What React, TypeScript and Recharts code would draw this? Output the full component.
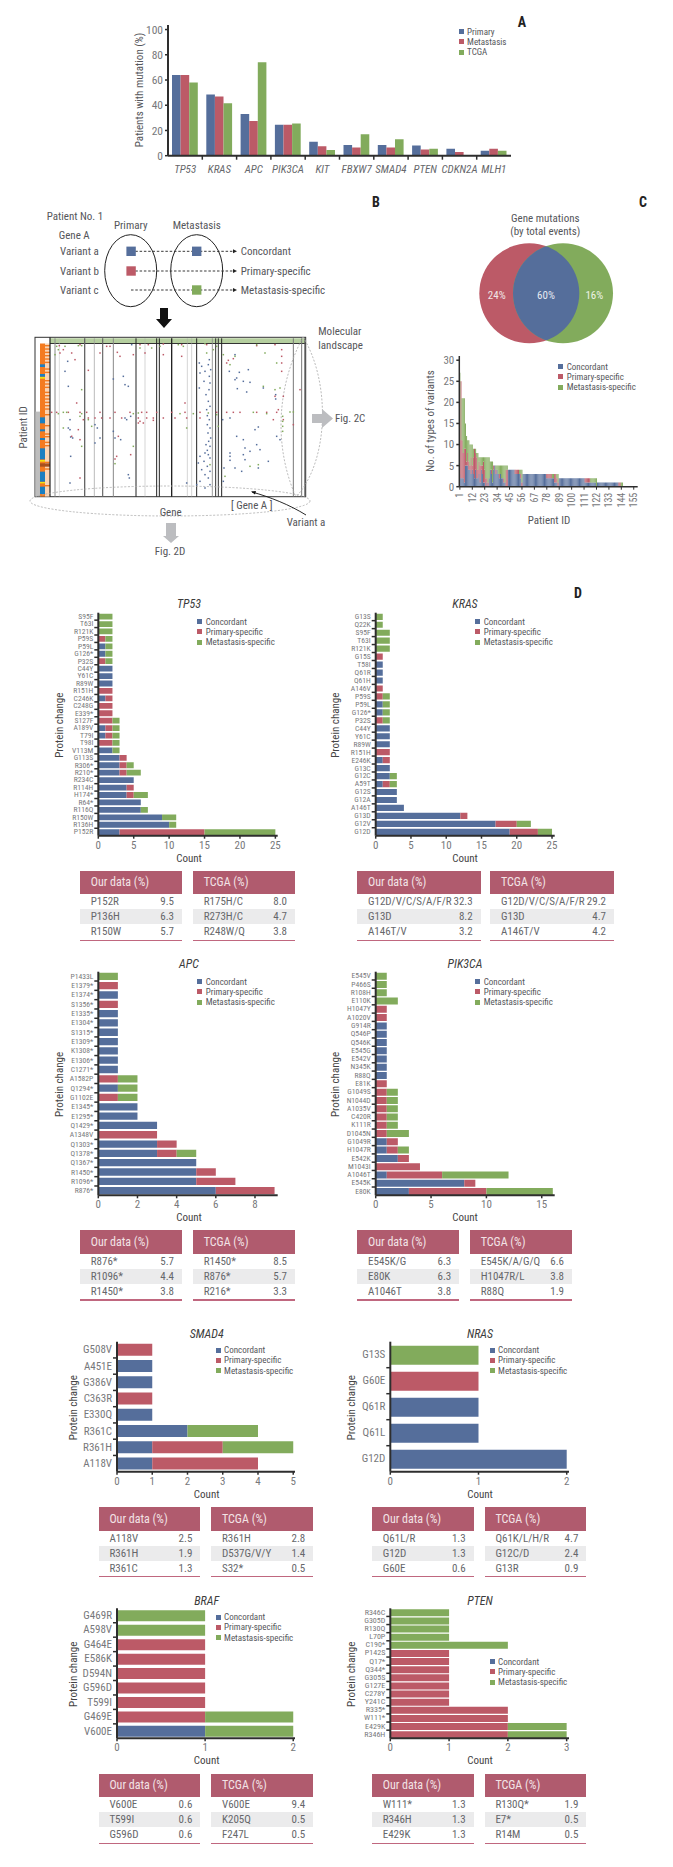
import React from 'react';
import { BarChart, Bar, XAxis, YAxis, Legend, ScatterChart, Scatter } from 'recharts';

const F = "'Liberation Sans Narrow','Roboto Condensed',Arial,sans-serif";
const BLUE = '#556E9B', RED = '#BC5A67', GREEN = '#82AB5C', AX = '#2e2e2e', GR = '#77787b', TXT = '#55565a';

// Panel A
const genesA = ['TP53', 'KRAS', 'APC', 'PIK3CA', 'KIT', 'FBXW7', 'SMAD4', 'PTEN', 'CDKN2A', 'MLH1'];
const primaryA = [64, 48.5, 33, 24.5, 11, 8.5, 8.5, 8, 5.5, 4];
const metastasisA = [64, 47, 27.5, 24.5, 7.5, 6.5, 6.5, 5, 3, 5.5];
const tcgaA = [58, 41.5, 74, 25.5, 4.5, 17, 13, 5.5, 0, 4];

// Panel C, variants per patient
const concordantC = [3,2,2,2,1,5,5,5,4,4,3,4,3,2,4,2,2,3,1,4,3,1,1,0,1,0,2,4,3,1,4,5,3,4,3,2,3,2,2,1,1,0,0,
  4,4,4,4,4,4,3,3,3,3,3,2,0,
  3,3,3,3,3,3,3,3,3,3,3,3,3,3,3,3,3,3,3,3,3,2,2,2,2,2,2,2,1,1,1,0,
  2,2,2,2,2,2,2,2,2,2,2,2,2,2,2,2,2,2,2,2,2,2,2,1,1,1,1,1,1,1,1,1,1,0,
  1,1,1,1,1,1,1,1,1,1,1,1,1,1,1,1,1,1,1,0,0,0,0,
  0,0,0,0,0,0,0,0,0,0,0,0,0];
const primaryC = [8,23,9,6,8,4,1,3,2,1,4,1,4,7,4,5,2,3,4,1,2,5,3,2,1,1,0,0,1,0,1,0,1,0,0,1,0,0,0,1,0,4,4,
  0,0,0,0,0,0,1,1,1,1,0,1,1,
  0,0,0,0,0,0,0,0,0,0,0,0,0,0,0,0,0,0,0,0,0,1,1,1,1,1,0,0,2,2,1,1,
  0,0,0,0,0,0,0,0,0,0,0,0,0,0,0,0,0,0,0,0,0,0,0,1,1,1,1,1,0,0,0,0,0,0,
  0,0,0,0,0,0,0,0,0,0,0,0,0,0,0,0,0,0,0,1,1,0,0,
  0,0,0,0,0,0,0,0,0,0,0,0,0];
const metastasisC = [16,0,10,13,12,6,6,3,5,5,3,5,2,0,1,1,4,1,2,2,2,1,3,5,5,6,5,2,2,5,0,0,1,1,2,2,2,3,3,3,4,1,1,
  0,0,0,0,0,0,0,0,0,0,1,1,3,
  0,0,0,0,0,0,0,0,0,0,0,0,0,0,0,0,0,0,0,0,0,0,0,0,0,0,1,1,0,0,1,2,
  0,0,0,0,0,0,0,0,0,0,0,0,0,0,0,0,0,0,0,0,0,0,0,0,0,0,0,0,1,1,1,1,1,2,
  0,0,0,0,0,0,0,0,0,0,0,0,0,0,0,0,0,0,0,0,0,1,1,
  0,0,0,0,0,0,0,0,0,0,0,0,0];

const vennShares = ['24%', '60%', '16%'];

// Panel B landscape: gene position, patient position
const bluePts: number[][] = [[598,520],[605,530],[600,550],[615,545],[628,560],[630,580],[612,575],[598,595],[627,600],[618,615],[625,635],[630,650],[622,678],[628,690],[622,705],[630,715],[624,730],[632,745],[626,755],[618,765],[630,770],[622,782],[615,790],[625,795],[600,800],[630,805],[612,815],[595,820],[622,830],[605,840],[630,845],[615,855],[625,865],[600,875],[630,885],[615,895],[590,885],[628,510],[625,525],[632,540],[620,660],[203,515],[195,545],[205,590],[340,568],[370,560],[375,585],[385,590],[395,465],[705,495],[688,545],[718,548],[710,565],[705,570],[730,575],[750,578],[712,597],[740,607],[790,595],[827,615],[827,628],[745,540],[210,690],[205,715],[210,720],[212,742],[218,745],[285,705],[292,715],[300,745],[285,760],[340,725],[345,745],[362,750],[380,690],[392,680],[375,685],[385,855],[388,865],[212,800],[210,880],[668,690],[690,685],[710,740],[775,712],[765,720],[730,750],[735,775],[770,765],[780,780],[690,790],[690,800],[690,812],[730,795],[735,810],[750,785],[705,835],[672,835],[725,845],[670,875],[805,815],[775,835],[830,740],[840,750],[560,880]];
const redPts: number[][] = [[178,468],[240,465],[330,470],[420,465],[445,465],[490,463],[545,465],[620,465],[825,465],[770,468],[320,470],[215,490],[180,490],[190,480],[225,510],[265,542],[400,495],[352,488],[360,500],[300,490],[435,490],[490,495],[545,500],[700,507],[685,512],[680,520],[845,480],[845,500],[845,520],[845,545],[555,640],[850,620],[230,640],[825,620],[155,668],[170,668],[205,668],[240,668],[260,668],[300,668],[345,668],[390,668],[425,668],[440,668],[470,668],[515,668],[555,668],[600,668],[650,668],[680,668],[700,668],[720,668],[770,668],[800,668],[830,668],[265,685],[285,685],[305,685],[330,685],[365,685],[415,685],[440,685],[460,685],[490,685],[525,685],[560,685],[600,685],[420,695],[430,700],[460,692],[240,750],[215,740],[350,800],[345,808],[392,795],[240,865],[355,740],[235,720],[250,690],[415,700],[835,660],[850,690],[880,705],[900,600],[820,690]];
const greenPts: number[][] = [[170,470],[165,495],[175,480],[195,470],[235,468],[245,468],[420,475],[455,475],[480,470],[535,465],[550,470],[615,462],[650,470],[640,480],[770,465],[795,490],[830,520],[690,525],[705,500],[790,590],[825,600],[840,595],[245,600],[620,490],[175,672],[190,668],[200,668],[245,672],[400,672],[415,670],[540,672],[580,672],[625,670],[760,668],[800,672],[870,667],[880,667],[848,680],[848,695],[848,710],[848,725],[190,715],[240,680],[265,690],[275,710],[245,770],[400,770],[345,822],[630,825],[675,860],[775,825],[750,830],[670,495],[655,710],[650,675],[560,715]];
const landscapeLines = [[165,3,'#8a8a8a'],[178,1.5,'#bdbdbd'],[254,4,'#666'],[283,2,'#999'],[308,3.5,'#666'],[340,3,'#888'],[408,3,'#222'],[435,1.5,'#aaa'],[470,3,'#222'],[478,3,'#222'],[515,4,'#222'],[562,1.5,'#aaa'],[575,1.5,'#aaa'],[590,3,'#222'],[637,2.5,'#888'],[647,3,'#333'],[655,3,'#333'],[665,3,'#222'],[880,3,'#777'],[905,3,'#777'],[915,4,'#555']] as [number, number, string][];
const heatBands = [[460,520,0],[523,531,2],[552,560,2],[561,566,3],[600,650,0],[682,700,2],[718,724,2],[744,750,2],[775,808,2],[810,815,3],[820,830,4],[845,875,2],[876,880,3],[890,912,2]] as [number, number, number][];
const heatColors = ['#F47B20', '#FBD5B5', '#1C7FC1', '#F4E20F', '#A8501E'];
const heatStripes = [465,475,485,495,505,515,535,545,570,580,590,605,615,625,635,645,655,672,705,730,738,755,765,815,835,885];

// Panel D
const tp53Labels = ['S95F','T63I','R121K','P59S','P59L','G126*','P32S','C44Y','Y61C','R89W','R151H','C246K','C248G','E339*','S127F','A189V','T79I','T98I','V113M','G113S','R306*','R210*','R234C','R114H','H174*','R64*','R116Q','R150W','R136H','P152R'];
const tp53C = [0,0,0,0,1,1,0,2,2,2,0,1,0,0,0,1,1,0,2,3,3,3,5,4,4,6,6,9,10,3];
const tp53P = [0,0,0,1,0,0,1,0,0,0,2,1,2,2,2,1,1,2,0,1,1,1,0,1,1,0,0,0,0,12];
const tp53M = [2,2,2,1,1,1,1,0,0,0,0,0,0,0,1,1,1,1,1,0,1,2,0,0,2,0,1,2,1,10];

const krasLabels = ['G13S','Q22K','S95F','T63I','R121K','G15S','T58I','Q61R','Q61H','A146V','P59S','P59L','G126*','P32S','C44Y','Y61C','R89W','R151H','E246K','G13C','G12C','A59T','G12S','G12A','A146T','G13D','G12V','G12D'];
const krasC = [0,0,0,0,0,0,1,1,1,0,0,1,1,0,2,2,2,0,1,2,2,1,3,3,4,12,17,19];
const krasP = [0,0,0,0,0,1,0,0,0,1,1,0,0,1,0,0,0,2,1,0,0,1,0,0,0,1,3,4];
const krasM = [1,1,2,2,2,0,0,0,0,0,1,1,1,1,0,0,0,0,0,0,1,1,0,0,0,0,2,2];

const apcLabels = ['P1433L','E1379*','E1374*','S1356*','E1335*','E1304*','S1315*','E1309*','K1308*','E1306*','C1271*','A1582P','Q1294*','G1102E','E1345*','E1295*','Q1429*','A1348V','Q1303*','Q1378*','Q1367*','R1450*','R1096*','R876*'];
const apcC = [0,0,1,0,1,1,1,1,1,1,1,0,1,0,2,2,3,0,3,3,5,5,5,6];
const apcP = [0,1,0,1,0,0,0,0,0,0,0,1,0,1,0,0,0,3,1,1,0,1,2,3];
const apcM = [1,0,0,0,0,0,0,0,0,0,0,1,1,1,0,0,0,0,0,1,0,0,0,0];

const pikLabels = ['E545V','P466S','R108H','E110K','H1047Y','A1020V','G914R','Q546P','Q546K','E545G','E542V','N345K','R88Q','E81K','G1049S','N1044D','A1035V','C420R','K111R','D1045N','G1049R','H1047R','E542K','M1043I','A1046T','E545K','E80K'];
const pikC = [0,0,0,0,0,0,1,1,1,1,1,1,1,0,0,0,0,0,0,0,1,1,2,0,1,8,3];
const pikP = [0,0,0,0,1,1,0,0,0,0,0,0,0,1,1,1,1,1,1,1,1,1,1,4,5,1,7];
const pikM = [1,1,1,2,0,0,0,0,0,0,0,0,0,0,1,1,1,1,1,2,0,1,0,0,6,0,6];

const smadLabels = ['G508V','A451E','G386V','C363R','E330Q','R361C','R361H','A118V'];
const smadC = [0,1,1,0,1,2,1,1];
const smadP = [1,0,0,1,0,0,2,3];
const smadM = [0,0,0,0,0,2,2,0];

const nrasLabels = ['G13S','G60E','Q61R','Q61L','G12D'];
const nrasC = [0,0,1,1,2];
const nrasP = [0,1,0,0,0];
const nrasM = [1,0,0,0,0];

const brafLabels = ['G469R','A598V','G464E','E586K','D594N','G596D','T599I','G469E','V600E'];
const brafC = [0,0,0,0,0,0,0,0,1];
const brafP = [0,0,1,1,1,1,1,1,0];
const brafM = [1,1,0,0,0,0,0,1,1];

const ptenLabels = ['R346C','G305D','R130Q','L70P','C190*','P142S','Q17*','Q344*','G305S','G127E','C278Y','Y241C','R335*','W111*','E429K','R346H'];
const ptenC = [0,0,0,0,0,0,0,0,0,0,0,0,0,0,0,0];
const ptenP = [0,0,0,0,0,1,1,1,1,1,1,1,2,2,2,2];
const ptenM = [1,1,1,1,2,0,0,0,0,0,0,0,0,0,1,1];

// Tables
const tp53Ours = [['P152R','9.5'],['P136H','6.3'],['R150W','5.7']];
const tp53Tcga = [['R175H/C','8.0'],['R273H/C','4.7'],['R248W/Q','3.8']];
const krasOurs = [['G12D/V/C/S/A/F/R','32.3'],['G13D','8.2'],['A146T/V','3.2']];
const krasTcga = [['G12D/V/C/S/A/F/R','29.2'],['G13D','4.7'],['A146T/V','4.2']];
const apcOurs = [['R876*','5.7'],['R1096*','4.4'],['R1450*','3.8']];
const apcTcga = [['R1450*','8.5'],['R876*','5.7'],['R216*','3.3']];
const pikOurs = [['E545K/G','6.3'],['E80K','6.3'],['A1046T','3.8']];
const pikTcga = [['E545K/A/G/Q','6.6'],['H1047R/L','3.8'],['R88Q','1.9']];
const smadOurs = [['A118V','2.5'],['R361H','1.9'],['R361C','1.3']];
const smadTcga = [['R361H','2.8'],['D537G/V/Y','1.4'],['S32*','0.5']];
const nrasOurs = [['Q61L/R','1.3'],['G12D','1.3'],['G60E','0.6']];
const nrasTcga = [['Q61K/L/H/R','4.7'],['G12C/D','2.4'],['G13R','0.9']];
const brafOurs = [['V600E','0.6'],['T599I','0.6'],['G596D','0.6']];
const brafTcga = [['V600E','9.4'],['K205Q','0.5'],['F247L','0.5']];
const ptenOurs = [['W111*','1.3'],['R346H','1.3'],['E429K','1.3']];
const ptenTcga = [['R130Q*','1.9'],['E7*','0.5'],['R14M','0.5']];

const zip = (labels: string[], c: number[], p: number[], m: number[]) =>
  labels.map((label, i) => ({ label, c: c[i], p: p[i], m: m[i] }));

const legendContent = (names: [string, string][]) => () => (
  <div style={{ fontFamily: F, fontSize: 9, color: TXT, lineHeight: '10.3px' }}>
    {names.map(([n, col]) => (
      <div key={n} style={{ display: 'flex', alignItems: 'center', height: 10.3, whiteSpace: 'nowrap' }}>
        <span style={{ width: 5, height: 5, background: col, marginRight: 3.4, flex: 'none' }} />
        {n}
      </div>
    ))}
  </div>
);
const typeLegend: [string, string][] = [['Concordant', BLUE], ['Primary-specific', RED], ['Metastasis-specific', GREEN]];

type GP = {
  title: string; rows: any[]; axisX: number; endX: number; top: number; bottom: number; dmax: number;
  ticks: number[]; barSize: number; labelSize: number; lx: number; ly: number; titleX: number; titleY: number; ylabX: number;
};

function GeneChart({ title, rows, axisX, endX, top, bottom, dmax, ticks, barSize, labelSize, lx, ly, titleX, titleY, ylabX }: GP) {
  const left = Math.floor(axisX - 60);
  const ctop = Math.floor(top - 24);
  const width = Math.ceil(endX - left + 12);
  const height = Math.ceil(bottom - ctop + 32);
  const yw = axisX - left;
  const band = (bottom - top) / rows.length;
  const yTick = (p: any) => (
    <g>
      <text x={yw - 5} y={p.y} textAnchor="end" dominantBaseline="central" fontSize={labelSize} fill={GR} fontFamily={F}>{p.payload.value}</text>
      {p.index < rows.length - 1 && <line x1={yw - 4} x2={yw} y1={p.y + band / 2} y2={p.y + band / 2} stroke={AX} strokeWidth={1.5} />}
    </g>
  );
  return (
    <div style={{ position: 'absolute', left, top: ctop, width, height }}>
      <BarChart width={width} height={height} layout="vertical" data={rows} barGap={0}
        margin={{ top: top - ctop, right: width - (endX - left), bottom: 0, left: 0 }}>
        <XAxis type="number" domain={[0, dmax]} ticks={ticks} allowDataOverflow height={height - (bottom - ctop)}
          axisLine={{ stroke: AX, strokeWidth: 2 }} tickLine={{ stroke: AX, strokeWidth: 1.5 }} tickSize={3} tickMargin={2}
          tick={{ fontSize: 11, fill: GR, fontFamily: F }} />
        <YAxis type="category" dataKey="label" width={yw} interval={0} tickLine={false}
          axisLine={{ stroke: AX, strokeWidth: 2 }} tick={yTick} />
        <Legend layout="horizontal" verticalAlign="middle" align="center" content={legendContent(typeLegend)}
          wrapperStyle={{ left: lx - left, top: ly - ctop, width: 90, height: 31 }} />
        <Bar dataKey="c" name="Concordant" stackId="a" fill={BLUE} barSize={barSize} isAnimationActive={false} />
        <Bar dataKey="p" name="Primary-specific" stackId="a" fill={RED} barSize={barSize} isAnimationActive={false} />
        <Bar dataKey="m" name="Metastasis-specific" stackId="a" fill={GREEN} barSize={barSize} isAnimationActive={false} />
        <text x={titleX - left} y={titleY - ctop} textAnchor="middle" dominantBaseline="central" fontSize={12} fontStyle="italic" fill="#3c3c3c" fontFamily={F}>{title}</text>
        <text x={titleX - left} y={bottom - ctop + 22.5} textAnchor="middle" dominantBaseline="central" fontSize={11} fill="#444" fontFamily={F}>Count</text>
        <text transform={`translate(${ylabX - left},${(top + bottom) / 2 - ctop + 1}) rotate(-90)`} textAnchor="middle" dominantBaseline="central" fontSize={11} fill="#444" fontFamily={F}>Protein change</text>
      </BarChart>
    </div>
  );
}

function DataTable({ x, y, w, head, rows }: { x: number; y: number; w: number; head: string; rows: string[][] }) {
  return (
    <div style={{ position: 'absolute', left: x, top: y, width: w, fontFamily: F, fontSize: 11, color: '#66676b' }}>
      <div style={{ height: 23.5, background: '#B05B6E', color: '#F3E3E6', display: 'flex', alignItems: 'center', paddingLeft: 10.7, fontSize: 12, boxSizing: 'border-box' }}>{head}</div>
      {rows.map((r, i) => (
        <div key={i} style={{ height: 15, display: 'flex', justifyContent: 'space-between', alignItems: 'center', padding: '0 8px 0 10.7px', background: i === 1 ? '#EBEBEC' : 'transparent', whiteSpace: 'nowrap' }}>
          <span>{r[0]}</span><span>{r[1]}</span>
        </div>
      ))}
      <div style={{ height: 1.5, marginTop: 0.4, background: '#C0677F' }} />
    </div>
  );
}

const T = ({ x, y, s = 11, a = 'start', c = TXT, children, w, r }: any) => (
  <text x={x} y={y} fontSize={s} textAnchor={a} fill={c} fontWeight={w} dominantBaseline="central" fontFamily={F}
    transform={r ? `rotate(${r} ${x} ${y})` : undefined}>{children}</text>
);
const zx = (v: number) => v / 3;
const zy = (v: number) => 190 + v / 3;

function Overlay() {
  return (
    <svg width={673} height={1867} style={{ position: 'absolute', left: 0, top: 0 }}>
      <T x={517.7} y={22} s={14} w="bold" c="#222">A</T>
      <T x={372} y={202} s={14} w="bold" c="#222">B</T>
      <T x={639} y={202} s={14} w="bold" c="#222">C</T>
      <T x={574} y={593} s={14} w="bold" c="#222">D</T>

      {/* schematic */}
      <T x={46.7} y={216.7}>Patient No. 1</T>
      <T x={130.7} y={225} a="middle">Primary</T>
      <T x={196.7} y={225} a="middle">Metastasis</T>
      <T x={58.7} y={235.7}>Gene A</T>
      <T x={60} y={251}>Variant a</T>
      <T x={60} y={271}>Variant b</T>
      <T x={60} y={290.7}>Variant c</T>
      <ellipse cx={130.7} cy={270.7} rx={26} ry={36} fill="none" stroke="#222" strokeWidth={1} />
      <ellipse cx={196.7} cy={270.7} rx={26} ry={36} fill="none" stroke="#222" strokeWidth={1} />
      {[251.3, 271, 290].map((y, i) => (
        <g key={i}>
          <line x1={131} x2={233} y1={y} y2={y} stroke="#222" strokeWidth={0.9} strokeDasharray="2.5 1.8" />
          <path d={`M233 ${y - 2}L237 ${y}L233 ${y + 2}Z`} fill="#222" />
        </g>
      ))}
      <rect x={126.4} y={246.6} width={9.4} height={9.4} fill={BLUE} />
      <rect x={192} y={246.6} width={9.4} height={9.4} fill={BLUE} />
      <rect x={126.4} y={266.3} width={9.4} height={9.4} fill={RED} />
      <rect x={192} y={285.3} width={9.4} height={9.4} fill={GREEN} />
      <T x={240.7} y={251}>Concordant</T>
      <T x={240.7} y={271}>Primary-specific</T>
      <T x={240.7} y={290.7}>Metastasis-specific</T>
      <path d="M160 308H168V319H172L164 328L156 319H160Z" fill="#111" />

      {/* landscape frame */}
      <rect x={35} y={337.3} width={270.7} height={159.4} fill="#fff" stroke="#333" strokeWidth={1} />
      <rect x={50} y={338.3} width={255} height={5} fill="#B5CF9F" />
      <line x1={50} x2={305.7} y1={343.5} y2={343.5} stroke="#333" strokeWidth={1} />
      <rect x={35.5} y={411.6} width={5} height={84.6} fill="#BDBDBD" />
      <rect x={40} y={343.5} width={5} height={153} fill={heatColors[0]} />
      <rect x={45} y={343.5} width={5} height={153} fill={heatColors[1]} />
      {heatStripes.map(y => <rect key={y} x={45} y={zy(y)} width={5} height={1.4} fill={heatColors[0]} />)}
      {heatBands.filter(b => b[2] !== 0).map(([a, b, k]) => (
        <rect key={a} x={40} y={zy(a)} width={k === 4 ? 10 : 5} height={(b - a) / 3} fill={heatColors[k]} />
      ))}
      <line x1={50} x2={50} y1={337.3} y2={496.7} stroke="#222" strokeWidth={1.2} />
      {landscapeLines.map(([x, w, c]) => (
        <line key={x} x1={zx(x)} x2={zx(x)} y1={338.3} y2={496.7} stroke={c} strokeWidth={w / 3} />
      ))}
      <ellipse cx={170} cy={501} rx={140} ry={15} fill="none" stroke="#aaa" strokeWidth={0.8} strokeDasharray="2 1.6" />
      <path d="M303 337C330 380 330 460 296 497M303 337C275 390 275 450 296 497" fill="none" stroke="#aaa" strokeWidth={0.8} strokeDasharray="2 1.6" />
      <path d="M312 414H322V409L333 418.5L322 428V423H312Z" fill="#BCBDC0" />
      <path d="M166 523H176V536H179L171 543L163 536H166Z" fill="#BCBDC0" />
      <path d="M306 515C290 505 270 497 252 492" fill="none" stroke="#111" strokeWidth={0.9} />
      <path d="M251 491.5L256 491L255 494.5Z" fill="#111" />
      <T x={318.3} y={331.5}>Molecular</T>
      <T x={318.3} y={345}>landscape</T>
      <T x={335} y={418.5}>Fig. 2C</T>
      <T x={24} y={427.3} a="middle" r={-90}>Patient ID</T>
      <T x={251.7} y={505} a="middle">[ Gene A ]</T>
      <T x={170.7} y={512.7} a="middle">Gene</T>
      <T x={306} y={522.7} a="middle">Variant a</T>
      <T x={170} y={551} a="middle">Fig. 2D</T>

      {/* venn */}
      <defs><clipPath id="lens"><circle cx={529.3} cy={293.3} r={50} /></clipPath></defs>
      <circle cx={529.3} cy={293.3} r={50} fill={RED} />
      <circle cx={563} cy={293.3} r={50} fill={GREEN} />
      <circle cx={563} cy={293.3} r={50} fill={BLUE} clipPath="url(#lens)" />
      <T x={496.7} y={295} a="middle" c="#F0E6E6">{vennShares[0]}</T>
      <T x={546} y={295} a="middle" c="#E6EAF2">{vennShares[1]}</T>
      <T x={594.3} y={295} a="middle" c="#EEF3E6">{vennShares[2]}</T>
      <T x={545.3} y={218} a="middle" s={11}>Gene mutations</T>
      <T x={545.3} y={231} a="middle" s={11}>(by total events)</T>
    </svg>
  );
}

function Landscape() {
  const dot = (col: string) => (p: any) => <rect x={p.cx - 0.75} y={p.cy - 0.75} width={1.5} height={1.5} fill={col} />;
  const mk = (a: number[][]) => a.map(([g, v]) => ({ g, v }));
  return (
    <div style={{ position: 'absolute', left: 50, top: 343 }}>
      <ScatterChart width={256} height={154} margin={{ top: 0, right: 0, bottom: 0, left: 0 }}>
        <XAxis type="number" dataKey="g" domain={[150, 918]} hide />
        <YAxis type="number" dataKey="v" domain={[460, 922]} reversed hide />
        <Scatter data={mk(bluePts)} shape={dot(BLUE)} isAnimationActive={false} />
        <Scatter data={mk(redPts)} shape={dot(RED)} isAnimationActive={false} />
        <Scatter data={mk(greenPts)} shape={dot(GREEN)} isAnimationActive={false} />
      </ScatterChart>
    </div>
  );
}

function PanelA() {
  const rows = genesA.map((g, i) => ({ g, p: primaryA[i], m: metastasisA[i], t: tcgaA[i] }));
  const left = 120, top = 15, W = 400, H = 170;
  const axisX = 168, endX = 511, ptop = 25, pbot = 155.7;
  const band = (endX - axisX) / genesA.length;
  const xt = (p: any) => (
    <g>
      <text x={p.x} y={pbot - top + 13.5} textAnchor="middle" dominantBaseline="central" fontSize={11} fontStyle="italic" fill="#66676b" fontFamily={F}>{p.payload.value}</text>
      {p.index < genesA.length - 1 && <line x1={p.x + band / 2} x2={p.x + band / 2} y1={pbot - top} y2={pbot - top + 4} stroke={AX} strokeWidth={1.5} />}
    </g>
  );
  return (
    <div style={{ position: 'absolute', left, top }}>
      <BarChart width={W} height={H} data={rows} barGap={0} margin={{ top: ptop - top, right: left + W - endX, bottom: 0, left: 0 }}>
        <XAxis dataKey="g" interval={0} height={H - (pbot - top)} tickLine={false} axisLine={{ stroke: AX, strokeWidth: 2 }} tick={xt} />
        <YAxis type="number" domain={[0, 103.6]} ticks={[0, 20, 40, 60, 80, 100]} width={axisX - left} allowDataOverflow
          axisLine={{ stroke: AX, strokeWidth: 2 }} tickLine={{ stroke: AX, strokeWidth: 1.5 }} tickSize={3} tickMargin={2}
          tick={{ fontSize: 11.5, fill: GR, fontFamily: F }} />
        <Legend layout="horizontal" verticalAlign="middle" align="center" content={legendContent([['Primary', BLUE], ['Metastasis', RED], ['TCGA', GREEN]])}
          wrapperStyle={{ left: 458.7 - left, top: 26.5 - top, width: 60, height: 31 }} />
        <Bar dataKey="p" name="Primary" fill={BLUE} barSize={8.6} isAnimationActive={false} />
        <Bar dataKey="m" name="Metastasis" fill={RED} barSize={8.6} isAnimationActive={false} />
        <Bar dataKey="t" name="TCGA" fill={GREEN} barSize={8.6} isAnimationActive={false} />
        <text transform={`translate(${139 - left},${90 - top}) rotate(-90)`} textAnchor="middle" dominantBaseline="central" fontSize={11} fill="#55565a" fontFamily={F}>Patients with mutation (%)</text>
      </BarChart>
    </div>
  );
}

function PanelC() {
  const rows = concordantC.map((c, i) => ({ id: String(i + 1), c, p: primaryC[i], m: metastasisC[i] }));
  const left = 420, top = 350, W = 230, H = 178;
  const axisX = 459.3, endX = 637.7, ptop = 356, pbot = 486.7;
  const xt = (p: any) => (
    <text x={p.x} y={pbot - top + 6} textAnchor="end" dominantBaseline="central" fontSize={10} fill={GR} fontFamily={F}
      transform={`rotate(-90 ${p.x} ${pbot - top + 6})`}>{p.payload.value}</text>
  );
  return (
    <div style={{ position: 'absolute', left, top }}>
      <BarChart width={W} height={H} data={rows} barCategoryGap={0} margin={{ top: ptop - top, right: left + W - endX, bottom: 0, left: 0 }}>
        <XAxis dataKey="id" interval={10} height={H - (pbot - top)} axisLine={{ stroke: AX, strokeWidth: 1.5 }} tickLine={{ stroke: AX, strokeWidth: 1 }} tickSize={3} tick={xt} />
        <YAxis type="number" domain={[0, 31]} ticks={[0, 5, 10, 15, 20, 25, 30]} width={axisX - left} allowDataOverflow
          axisLine={{ stroke: AX, strokeWidth: 1.5 }} tickLine={{ stroke: AX, strokeWidth: 1.5 }} tickSize={3} tickMargin={2}
          tick={{ fontSize: 11, fill: GR, fontFamily: F }} />
        <Legend layout="horizontal" verticalAlign="middle" align="center" content={legendContent(typeLegend)}
          wrapperStyle={{ left: 558.3 - left, top: 361.5 - top, width: 90, height: 31 }} />
        <Bar dataKey="c" name="Concordant" stackId="a" fill={BLUE} barSize={1.7} isAnimationActive={false} />
        <Bar dataKey="p" name="Primary-specific" stackId="a" fill={RED} barSize={1.7} isAnimationActive={false} />
        <Bar dataKey="m" name="Metastasis-specific" stackId="a" fill={GREEN} barSize={1.7} isAnimationActive={false} />
        <text transform={`translate(${430.7 - left},${421 - top}) rotate(-90)`} textAnchor="middle" dominantBaseline="central" fontSize={11} fill="#55565a" fontFamily={F}>No. of types of variants</text>
        <text x={549 - left} y={520 - top} textAnchor="middle" dominantBaseline="central" fontSize={11} fill="#55565a" fontFamily={F}>Patient ID</text>
      </BarChart>
    </div>
  );
}

const H1 = 'Our data (%)', H2 = 'TCGA (%)';

export default function App() {
  return (
    <div style={{ position: 'absolute', left: 0, top: 0, width: 673, height: 1867, background: '#fff', overflow: 'hidden' }}>
      <Overlay />
      <Landscape />
      <PanelA />
      <PanelC />
      <GeneChart title="TP53" rows={zip(tp53Labels, tp53C, tp53P, tp53M)} axisX={98.3} endX={277.7} top={612.7} bottom={835.7} dmax={25.33} ticks={[0,5,10,15,20,25]} barSize={5.8} labelSize={7.6} lx={197.3} ly={616.5} titleX={189} titleY={604.3} ylabX={59.3} />
      <GeneChart title="KRAS" rows={zip(krasLabels, krasC, krasP, krasM)} axisX={375.7} endX={554.7} top={612.7} bottom={835.7} dmax={25.38} ticks={[0,5,10,15,20,25]} barSize={6.2} labelSize={7.6} lx={475.3} ly={616.5} titleX={465} titleY={604.3} ylabX={335} />
      <GeneChart title="APC" rows={zip(apcLabels, apcC, apcP, apcM)} axisX={98.3} endX={277.7} top={971.7} bottom={1195.3} dmax={9.16} ticks={[0,2,4,6,8]} barSize={7.3} labelSize={7.6} lx={197.3} ly={976.5} titleX={189} titleY={964} ylabX={59.3} />
      <GeneChart title="PIK3CA" rows={zip(pikLabels, pikC, pikP, pikM)} axisX={375.7} endX={554.7} top={971.7} bottom={1195.3} dmax={16.17} ticks={[0,5,10,15]} barSize={7} labelSize={7.6} lx={475.3} ly={976.5} titleX={465} titleY={964} ylabX={335} />
      <GeneChart title="SMAD4" rows={zip(smadLabels, smadC, smadP, smadM)} axisX={117} endX={295} top={1341.7} bottom={1471.7} dmax={5.05} ticks={[0,1,2,3,4,5]} barSize={12} labelSize={11} lx={215.7} ly={1345} titleX={206.7} titleY={1334} ylabX={73} />
      <GeneChart title="NRAS" rows={zip(nrasLabels, nrasC, nrasP, nrasM)} axisX={390.3} endX={569} top={1341.7} bottom={1471.7} dmax={2.026} ticks={[0,1,2]} barSize={19} labelSize={11} lx={489.7} ly={1345} titleX={480} titleY={1334} ylabX={351} />
      <GeneChart title="BRAF" rows={zip(brafLabels, brafC, brafP, brafM)} axisX={117} endX={295} top={1608.3} bottom={1738.3} dmax={2.02} ticks={[0,1,2]} barSize={11} labelSize={11} lx={215.7} ly={1612} titleX={206.7} titleY={1600.7} ylabX={73} />
      <GeneChart title="PTEN" rows={zip(ptenLabels, ptenC, ptenP, ptenM)} axisX={390.3} endX={569} top={1608.3} bottom={1738.3} dmax={3.04} ticks={[0,1,2,3]} barSize={7} labelSize={8} lx={489.7} ly={1656.5} titleX={480} titleY={1600.7} ylabX={351} />

      <DataTable x={80} y={870.7} w={102} head={H1} rows={tp53Ours} />
      <DataTable x={193} y={870.7} w={102} head={H2} rows={tp53Tcga} />
      <DataTable x={357.3} y={870.7} w={123.4} head={H1} rows={krasOurs} />
      <DataTable x={490.3} y={870.7} w={123.7} head={H2} rows={krasTcga} />
      <DataTable x={80} y={1230.3} w={102} head={H1} rows={apcOurs} />
      <DataTable x={193} y={1230.3} w={102} head={H2} rows={apcTcga} />
      <DataTable x={357.3} y={1230.3} w={102} head={H1} rows={pikOurs} />
      <DataTable x={470} y={1230.3} w={102} head={H2} rows={pikTcga} />
      <DataTable x={98.7} y={1507} w={101.7} head={H1} rows={smadOurs} />
      <DataTable x={211.3} y={1507} w={102} head={H2} rows={smadTcga} />
      <DataTable x={372} y={1507} w={101.7} head={H1} rows={nrasOurs} />
      <DataTable x={484.7} y={1507} w={101.7} head={H2} rows={nrasTcga} />
      <DataTable x={98.7} y={1773.7} w={101.7} head={H1} rows={brafOurs} />
      <DataTable x={211.3} y={1773.7} w={102} head={H2} rows={brafTcga} />
      <DataTable x={372} y={1773.7} w={101.7} head={H1} rows={ptenOurs} />
      <DataTable x={484.7} y={1773.7} w={101.7} head={H2} rows={ptenTcga} />
    </div>
  );
}
